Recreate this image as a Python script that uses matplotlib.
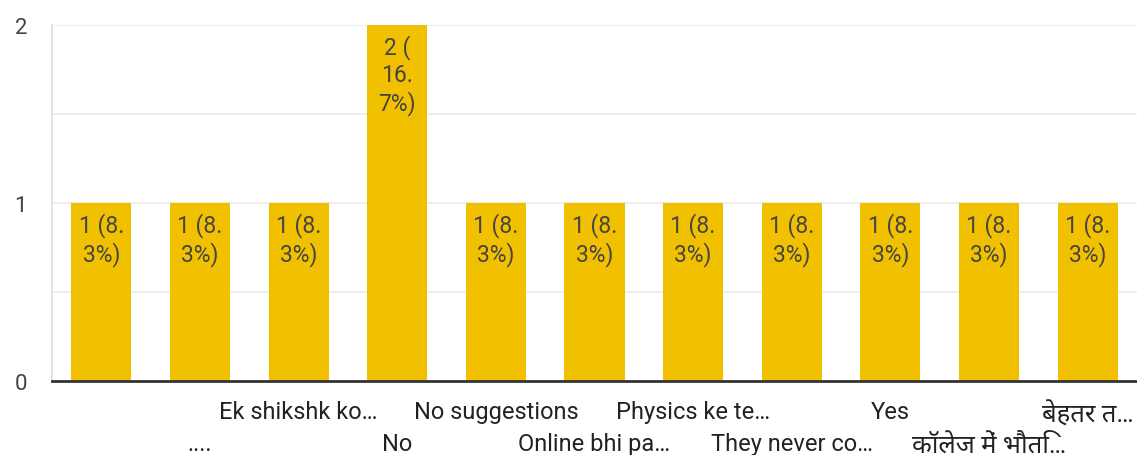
import matplotlib
matplotlib.use("Agg")
import matplotlib.pyplot as plt
from matplotlib import font_manager, ft2font
import numpy as np

categories = ["", "....", "Ek shikshk ko…", "No", "No suggestions", "Online bhi pa…",
              "Physics ke te…", "They never co…", "Yes", "कॉलेज में भौति…", "बेहतर त…"]
values = [1, 1, 1, 2, 1, 1, 1, 1, 1, 1, 1]
bar_labels = ["1 (8.\n3%)", "1 (8.\n3%)", "1 (8.\n3%)", "2 (\n16.\n7%)", "1 (8.\n3%)",
              "1 (8.\n3%)", "1 (8.\n3%)", "1 (8.\n3%)", "1 (8.\n3%)", "1 (8.\n3%)", "1 (8.\n3%)"]
y_ticks = [0, 1, 2]

names = {f.name for f in font_manager.fontManager.ttflist}
deva = None
for cand in ["Noto Sans Devanagari", "Hind", "Mukta", "Poppins", "Anek Devanagari"]:
    if cand in names:
        deva = cand
        break
if deva is None:
    for f in font_manager.fontManager.ttflist:
        try:
            if 0x915 in ft2font.FT2Font(f.fname).get_charmap():
                deva = f.name
                break
        except Exception:
            pass

families = ["Roboto"]
if deva:
    families.append(deva)
families.append("DejaVu Sans")
plt.rcParams["font.family"] = families

BAR = "#F1C100"
TXT = "#444444"
LAB = "#222222"

fig = plt.figure(figsize=(11.37, 4.56), dpi=100)
ax = fig.add_axes([52 / 1137, 1 - 382 / 456, 1 - 52 / 1137, (382 - 26) / 456])

x = np.arange(len(categories))
ax.bar(x, values, width=0.61, color=BAR, zorder=2)

for xi, v, lab in zip(x, values, bar_labels):
    ax.annotate(lab, xy=(xi, v), xytext=(0, -6.5), textcoords="offset points",
                ha="center", va="top", fontsize=16.5, color=TXT, linespacing=1.22, zorder=3)

ax.set_xlim(-0.5, len(categories) - 0.5)
ax.set_ylim(0, 2)
ax.set_yticks(y_ticks)
ax.set_yticklabels([str(t) for t in y_ticks])
ax.set_yticks([0.5, 1.5], minor=True)
ax.yaxis.grid(True, which="both", color="#ebebeb", linewidth=1.2, zorder=0)

ax.set_xticks(x[::2])
major_labels = ax.set_xticklabels(categories[::2])
ax.set_xticks(x[1::2], minor=True)
minor_labels = ax.set_xticklabels(categories[1::2], minor=True)
ax.tick_params(axis="x", which="major", length=0, pad=14, labelsize=17, labelcolor=LAB)
ax.tick_params(axis="x", which="minor", length=0, pad=37, labelsize=17, labelcolor=LAB)
ax.tick_params(axis="y", which="both", length=0, pad=18, labelsize=16, labelcolor=TXT)
for t in list(major_labels) + list(minor_labels):
    if any(0x900 <= ord(c) <= 0x97F for c in t.get_text()):
        t.set_fontsize(18.5)

for s in ["top", "right"]:
    ax.spines[s].set_visible(False)
ax.spines["left"].set_color("#dddddd")
ax.spines["left"].set_linewidth(1.2)
ax.spines["bottom"].set_color("#333333")
ax.spines["bottom"].set_linewidth(2)
ax.spines["bottom"].set_zorder(4)

fig.savefig("out.png", dpi=100)
